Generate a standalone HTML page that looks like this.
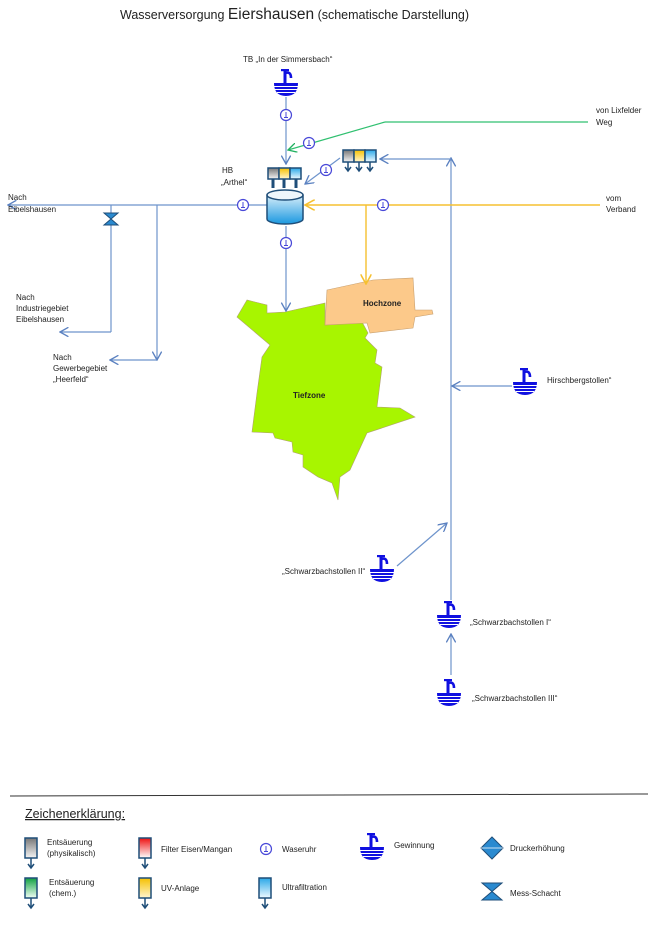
<!DOCTYPE html>
<html><head><meta charset="utf-8">
<style>
html,body{margin:0;padding:0;background:#fff;}
svg{display:block;font-family:"Liberation Sans",sans-serif;}
.t{font-size:8px;fill:#222;}
</style></head><body>
<svg width="653" height="940" viewBox="0 0 653 940" xmlns="http://www.w3.org/2000/svg">
<defs>
<linearGradient id="gGray" x1="0" y1="0" x2="0" y2="1"><stop offset="0" stop-color="#777"/><stop offset="1" stop-color="#f4f4f4"/></linearGradient>
<linearGradient id="gYel" x1="0" y1="0" x2="0" y2="1"><stop offset="0" stop-color="#f5c000"/><stop offset="1" stop-color="#fff6d0"/></linearGradient>
<linearGradient id="gBlue" x1="0" y1="0" x2="0" y2="1"><stop offset="0" stop-color="#2aa8e8"/><stop offset="1" stop-color="#f0faff"/></linearGradient>
<linearGradient id="gRed" x1="0" y1="0" x2="0" y2="1"><stop offset="0" stop-color="#ee1010"/><stop offset="1" stop-color="#fff"/></linearGradient>
<linearGradient id="gGreen" x1="0" y1="0" x2="0" y2="1"><stop offset="0" stop-color="#10a040"/><stop offset="1" stop-color="#f0fff4"/></linearGradient>
<linearGradient id="gTank" x1="0" y1="0" x2="0" y2="1"><stop offset="0" stop-color="#d8eefa"/><stop offset="1" stop-color="#1a98e0"/></linearGradient>
<g id="gew">
 <path d="M-1,-13 V-1" stroke="#1010e0" stroke-width="3"/>
 <path d="M-1,-11 Q5,-13 5,-6" fill="none" stroke="#1010e0" stroke-width="2.6"/>
 <rect x="-5" y="-15" width="8" height="2.2" fill="#1010e0"/>
 <path d="M-12,-1 H12 Q12,12 0,12 Q-12,12 -12,-1Z" fill="#1010e0"/>
 <path d="M-12,2.5 H12 M-11,5.5 H11 M-9,8.5 H9" stroke="#fff" stroke-width="1"/>
</g>
<g id="wu">
 <circle r="5.5" fill="#fff" stroke="#4848d8" stroke-width="1.2"/>
 <path d="M0,-3 V2 M-2,2.5 H2" stroke="#4848d8" stroke-width="1"/>
</g>
<marker id="ab" viewBox="0 0 10 10" refX="9" refY="5" markerWidth="8" markerHeight="8" orient="auto"><path d="M0,0 L9,5 L0,10" fill="none" stroke="#5a80c0" stroke-width="1.4"/></marker>
<marker id="ay" viewBox="0 0 10 10" refX="9" refY="5" markerWidth="8" markerHeight="8" orient="auto"><path d="M0,0 L9,5 L0,10" fill="none" stroke="#f6c030" stroke-width="1.4"/></marker>
<marker id="ag" viewBox="0 0 10 10" refX="9" refY="5" markerWidth="8" markerHeight="8" orient="auto"><path d="M0,0 L9,5 L0,10" fill="none" stroke="#20b060" stroke-width="1.4"/></marker>
</defs>

<text x="120" y="19" font-size="12.5" fill="#222">Wasserversorgung <tspan font-size="15.5">Eiershausen</tspan>  (schematische  Darstellung)</text>

<!-- map -->
<polygon points="237,317 247,300 267,305 267,313 285,312 325,303 325,325 362,322 368,333 365,338 377,350 375,363 382,367 377,407 400,408 415,417 367,433 350,470 340,477 338,500 332,483 318,477 303,467 303,455 293,452 292,442 275,438 273,433 252,432 257,393 262,357 270,345" fill="#a8f500" stroke="#b0a070" stroke-width="0.6"/>
<polygon points="327,290 373,280 413,278 415,310 432,310 433,314 415,317 413,328 370,333 367,323 325,325" fill="#fcc98a" stroke="#c8a070" stroke-width="0.6"/>
<text x="363" y="306" class="t" font-weight="bold">Hochzone</text>
<text x="293" y="398" class="t" font-weight="bold">Tiefzone</text>

<!-- lines -->
<g stroke="#6e94cc" stroke-width="1.2" fill="none">
<line x1="286" y1="97" x2="286" y2="164" marker-end="url(#ab)"/>
<line x1="268" y1="205" x2="8" y2="205" marker-end="url(#ab)"/>
<line x1="111" y1="205" x2="111" y2="332"/>
<line x1="111" y1="332" x2="60" y2="332" marker-end="url(#ab)"/>
<line x1="157" y1="205" x2="157" y2="360" marker-end="url(#ab)"/>
<line x1="157" y1="360" x2="110" y2="360" marker-end="url(#ab)"/>
<line x1="286" y1="226" x2="286" y2="311" marker-end="url(#ab)"/>
<line x1="340" y1="158" x2="305" y2="184" marker-end="url(#ab)"/>
<line x1="451" y1="600" x2="451" y2="158" marker-end="url(#ab)"/>
<line x1="451" y1="159" x2="380" y2="159" marker-end="url(#ab)"/>
<line x1="512" y1="386" x2="452" y2="386" marker-end="url(#ab)"/>
<line x1="397" y1="566" x2="447" y2="523" marker-end="url(#ab)"/>
<line x1="451" y1="675" x2="451" y2="634" marker-end="url(#ab)"/>
</g>
<line x1="588" y1="122" x2="385" y2="122" stroke="#30c070" stroke-width="1.2"/>
<line x1="385" y1="122" x2="288" y2="150" stroke="#30c070" stroke-width="1.2" marker-end="url(#ag)"/>
<line x1="600" y1="205" x2="305" y2="205" stroke="#f6c030" stroke-width="1.4" marker-end="url(#ay)"/>
<line x1="366" y1="205" x2="366" y2="284" stroke="#f6c030" stroke-width="1.4" marker-end="url(#ay)"/>

<!-- meters -->
<use href="#wu" x="286" y="115"/>
<use href="#wu" x="309" y="143"/>
<use href="#wu" x="326" y="170"/>
<use href="#wu" x="243" y="205"/>
<use href="#wu" x="383" y="205"/>
<use href="#wu" x="286" y="243"/>

<!-- tank & filters -->
<g stroke="#1f4e79" stroke-width="1.5">
<rect x="268" y="168" width="11" height="11" fill="url(#gGray)"/>
<rect x="279" y="168" width="11" height="11" fill="url(#gYel)"/>
<rect x="290" y="168" width="11" height="11" fill="url(#gBlue)"/>
<path d="M273,179 V188 M284,179 V188 M296,179 V188" stroke-width="3"/>
<path d="M267,195 V219 A18,5 0 0 0 303,219 V195" fill="url(#gTank)"/>
<ellipse cx="285" cy="195" rx="18" ry="5" fill="#eef6fc"/>
<rect x="343" y="150" width="11" height="12" fill="url(#gGray)"/>
<rect x="354" y="150" width="11" height="12" fill="url(#gYel)"/>
<rect x="365" y="150" width="11" height="12" fill="url(#gBlue)"/>
<path d="M348,162 V170 M359,162 V170 M370,162 V170 M345,167 L348,171 L351,167 M356,167 L359,171 L362,167 M367,167 L370,171 L373,167" fill="none" stroke-width="1.5"/>
</g>

<!-- mess schacht -->
<path d="M104,213 H118 L104,225 H118Z" fill="#2a8ad0" stroke="#1f4e79" stroke-width="1"/>

<!-- gewinnung -->
<use href="#gew" x="286" y="84"/>
<use href="#gew" x="525" y="383"/>
<use href="#gew" x="382" y="570"/>
<use href="#gew" x="449" y="616"/>
<use href="#gew" x="449" y="694"/>

<!-- labels -->
<text x="243" y="62" class="t">TB „In der Simmersbach“</text>
<text x="222" y="173" class="t">HB</text>
<text x="221" y="185" class="t">„Arthel“</text>
<text x="596" y="113" class="t">von Lixfelder</text>
<text x="596" y="125" class="t">Weg</text>
<text x="606" y="201" class="t">vom</text>
<text x="606" y="212" class="t">Verband</text>
<text x="8" y="200" class="t">Nach</text>
<text x="8" y="212" class="t">Eibelshausen</text>
<text x="16" y="300" class="t">Nach</text>
<text x="16" y="311" class="t">Industriegebiet</text>
<text x="16" y="322" class="t">Eibelshausen</text>
<text x="53" y="360" class="t">Nach</text>
<text x="53" y="371" class="t">Gewerbegebiet</text>
<text x="53" y="382" class="t">„Heerfeld“</text>
<text x="547" y="383" class="t">Hirschbergstollen“</text>
<text x="282" y="574" class="t">„Schwarzbachstollen II“</text>
<text x="470" y="625" class="t">„Schwarzbachstollen I“</text>
<text x="472" y="701" class="t">„Schwarzbachstollen III“</text>

<!-- legend -->
<line x1="10" y1="796" x2="648" y2="794" stroke="#333" stroke-width="1"/>
<text x="25" y="818" font-size="12.5" fill="#222" text-decoration="underline">Zeichenerklärung:</text>
<g stroke="#1f4e79" stroke-width="1.5" fill="none">
<rect x="25" y="838" width="12" height="20" fill="url(#gGray)"/><path d="M31,858 V867 M28,864 L31,868 L34,864"/>
<rect x="25" y="878" width="12" height="20" fill="url(#gGreen)"/><path d="M31,898 V907 M28,904 L31,908 L34,904"/>
<rect x="139" y="838" width="12" height="20" fill="url(#gRed)"/><path d="M145,858 V867 M142,864 L145,868 L148,864"/>
<rect x="139" y="878" width="12" height="20" fill="url(#gYel)"/><path d="M145,898 V907 M142,904 L145,908 L148,904"/>
<rect x="259" y="878" width="12" height="20" fill="url(#gBlue)"/><path d="M265,898 V907 M262,904 L265,908 L268,904"/>
</g>
<text x="47" y="845" class="t">Entsäuerung</text>
<text x="47" y="856" class="t">(physikalisch)</text>
<text x="49" y="885" class="t">Entsäuerung</text>
<text x="49" y="896" class="t">(chem.)</text>
<text x="161" y="852" class="t">Filter Eisen/Mangan</text>
<text x="161" y="891" class="t">UV-Anlage</text>
<use href="#wu" x="266" y="849"/>
<text x="282" y="852" class="t">Waseruhr</text>
<text x="282" y="890" class="t">Ultrafiltration</text>
<use href="#gew" x="372" y="848"/>
<text x="394" y="848" class="t">Gewinnung</text>
<path d="M492,837 L503,848 L492,859 L481,848Z" fill="#2a8ad0" stroke="#1f4e79" stroke-width="1"/>
<line x1="481" y1="848" x2="503" y2="848" stroke="#fff" stroke-width="0.8"/>
<text x="510" y="851" class="t">Druckerhöhung</text>
<path d="M482,883 H502 L482,900 H502Z" fill="#2a8ad0" stroke="#1f4e79" stroke-width="1"/>
<text x="510" y="896" class="t">Mess-Schacht</text>
</svg>
</body></html>
